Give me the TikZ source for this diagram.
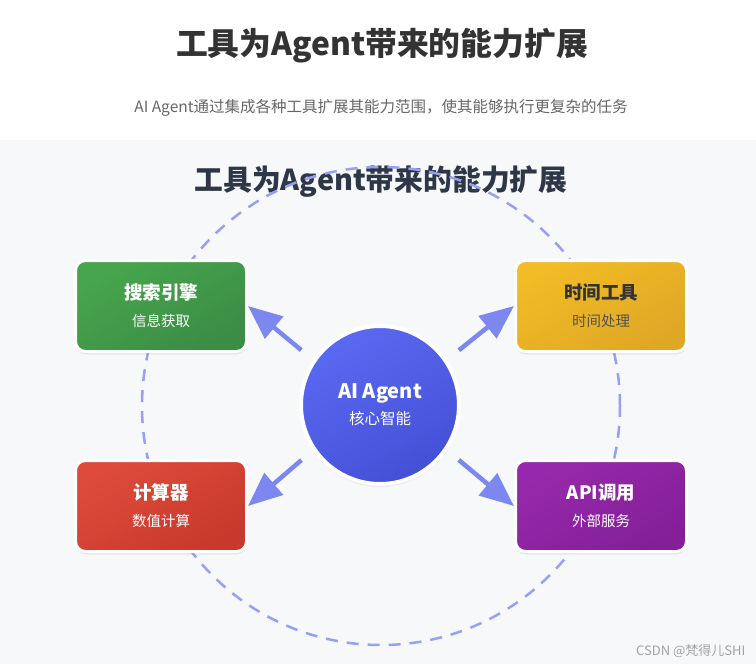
\documentclass[tikz,border=0pt]{standalone}
\usepackage{fontspec}
\setmainfont{Noto Sans CJK SC}
\usetikzlibrary{positioning,arrows.meta,shadows}
\definecolor{ink}{HTML}{333333}
\definecolor{subgray}{HTML}{666666}
\definecolor{headink}{HTML}{2D3748}
\definecolor{canvas}{HTML}{F7F8FA}
\definecolor{ring}{HTML}{96A0F5}
\definecolor{link}{HTML}{7C88F0}
\definecolor{agentA}{HTML}{5B69F2}
\definecolor{agentB}{HTML}{4350D6}
\definecolor{greenA}{HTML}{47A64D}
\definecolor{greenB}{HTML}{3B8C45}
\definecolor{amberA}{HTML}{F1BC25}
\definecolor{amberB}{HTML}{DFA726}
\definecolor{redA}{HTML}{DE4B3A}
\definecolor{redB}{HTML}{C7392C}
\definecolor{violetA}{HTML}{9629AB}
\definecolor{violetB}{HTML}{841F98}
\definecolor{wmgray}{HTML}{A3A3A3}

\begin{document}
\begin{tikzpicture}[
  x=1pt,y=-1pt,
  tool/.style={draw=white,line width=3pt,rounded corners=10pt,minimum width=171pt,minimum height=91pt,
    align=center,text=white,font=\fontsize{14.5}{18}\selectfont,
    drop shadow={opacity=.14,shadow xshift=0pt,shadow yshift=-3pt}},
  core/.style={circle,draw=white,line width=4pt,minimum size=158pt,align=center,text=white,
    top color=agentA,bottom color=agentB,shading angle=30,font=\fontsize{15.5}{19}\selectfont,
    drop shadow={opacity=.14,shadow xshift=0pt,shadow yshift=-3pt}},
  arr/.style={-{Triangle[length=34pt,width=28pt]},line width=4.5pt,draw=link,shorten <=15pt}
]
\useasboundingbox (0,0) rectangle (756,664);
\fill[white] (0,0) rectangle (756,140);
\fill[canvas] (0,140) rectangle (756,664);

% headings
\node[ink,font=\fontsize{31.8}{37}\selectfont\bfseries] (title) at (382,46) {工具为Agent带来的能力扩展};
\node[subgray,font=\fontsize{15.5}{19}\selectfont] (sub) at (381,108) {AI Agent通过集成各种工具扩展其能力范围，使其能够执行更复杂的任务};
\node[headink,font=\fontsize{28.8}{34}\selectfont\bfseries] (head) at (381,182) {工具为Agent带来的能力扩展};

% orbit
\node[circle,draw=ring,line width=2.5pt,dash pattern=on 12pt off 9pt,minimum size=478pt] (orbit) at (381,406) {};

% nodes
\node[core] (agent) at (380,405) {{\bfseries\fontsize{20}{24}\selectfont AI Agent}\\[7pt]核心智能};
\node[tool,top color=greenA,bottom color=greenB,shading angle=30] (search) at (161,306)
  {{\bfseries\fontsize{18.5}{22}\selectfont 搜索引擎}\\[9pt]信息获取};
\node[tool,top color=amberA,bottom color=amberB,shading angle=30,text=ink] (clock) at (601,306)
  {{\bfseries\fontsize{18.5}{22}\selectfont 时间工具}\\[9pt]{\color{ink!85}时间处理}};
\node[tool,top color=redA,bottom color=redB,shading angle=30] (calc) at (161,506)
  {{\bfseries\fontsize{18.5}{22}\selectfont 计算器}\\[9pt]数值计算};
\node[tool,top color=violetA,bottom color=violetB,shading angle=30] (api) at (601,506)
  {{\bfseries\fontsize{18.5}{22}\selectfont API调用}\\[9pt]外部服务};

% links
\draw[arr] (agent.146) -- (search.east);
\draw[arr] (agent.34) -- (clock.west);
\draw[arr] (agent.214) -- (calc.east);
\draw[arr] (agent.326) -- (api.west);

\node[wmgray,anchor=east,font=\fontsize{13}{16}\selectfont] (wm) at (749,651) {CSDN @梵得儿SHI};
\end{tikzpicture}
\end{document}
